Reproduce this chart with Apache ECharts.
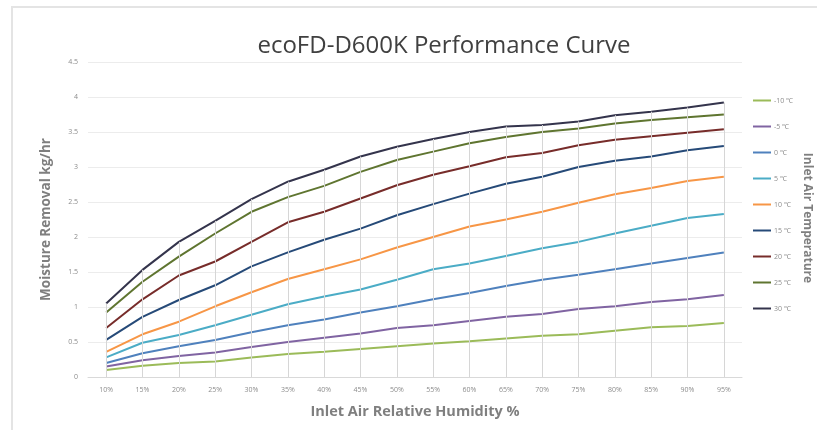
<!DOCTYPE html>
<html>
<head>
<meta charset="utf-8">
<script src="https://cdn.jsdelivr.net/npm/echarts@6/dist/echarts.min.js"></script>
<style>html,body{margin:0;padding:0;background:#fff;}#c{width:817px;height:430px;}</style>
</head>
<body>
<div id="c"></div>
<script>
var categories = ['10%','15%','20%','25%','30%','35%','40%','45%','50%','55%','60%','65%','70%','75%','80%','85%','90%','95%'];
var seriesNames = ['-10 ℃','-5 ℃','0 ℃','5 ℃','10 ℃','15 ℃','20 ℃','25 ℃','30 ℃'];
var tm10 = [0.10,0.16,0.20,0.22,0.28,0.33,0.36,0.40,0.44,0.48,0.51,0.55,0.59,0.61,0.66,0.71,0.73,0.77];
var tm5  = [0.15,0.24,0.30,0.35,0.43,0.50,0.56,0.62,0.70,0.74,0.80,0.86,0.90,0.97,1.01,1.07,1.11,1.17];
var t0   = [0.20,0.34,0.44,0.53,0.64,0.74,0.82,0.92,1.01,1.11,1.20,1.30,1.39,1.46,1.54,1.62,1.70,1.78];
var t5   = [0.28,0.49,0.60,0.74,0.89,1.04,1.15,1.25,1.39,1.54,1.62,1.73,1.84,1.93,2.05,2.16,2.27,2.33];
var t10  = [0.36,0.61,0.79,1.01,1.21,1.40,1.54,1.68,1.85,2.00,2.15,2.25,2.36,2.49,2.61,2.70,2.80,2.86];
var t15  = [0.53,0.86,1.10,1.31,1.58,1.78,1.96,2.12,2.31,2.47,2.62,2.76,2.86,3.00,3.09,3.15,3.24,3.30];
var t20  = [0.70,1.11,1.45,1.65,1.93,2.21,2.36,2.55,2.74,2.89,3.01,3.14,3.20,3.31,3.39,3.44,3.49,3.54];
var t25  = [0.92,1.36,1.72,2.05,2.36,2.57,2.73,2.93,3.10,3.22,3.34,3.43,3.50,3.55,3.62,3.67,3.71,3.75];
var t30  = [1.05,1.53,1.93,2.23,2.54,2.79,2.96,3.15,3.29,3.40,3.50,3.58,3.60,3.65,3.74,3.79,3.85,3.92];
var yTicks = [0,0.5,1,1.5,2,2.5,3,3.5,4,4.5];

var allData = [tm10,tm5,t0,t5,t10,t15,t20,t25,t30];
var colors = ['#9bbb59','#8064a2','#4f81bd','#4bacc6','#f79646','#264a78','#772c2a','#5f7530','#34344c'];

var dropLines = categories.map(function(c,i){
  return [{coord:[c,0]},{coord:[c,t30[i]]}];
});

var series = allData.map(function(d,i){
  return {
    name: seriesNames[i], type:'line', data:d, symbol:'none', smooth:false,
    lineStyle:{width:2,color:colors[i]}, itemStyle:{color:colors[i]}, z: 3
  };
});
series.push({
  name:'drop', type:'line', data:[], silent:true, z:1,
  markLine:{silent:true, symbol:['none','none'], label:{show:false},
    lineStyle:{color:'#d6d6d6', width:1, type:'solid'}, data:dropLines}
});

var chart = echarts.init(document.getElementById('c'));
chart.setOption({
  animation:false,
  backgroundColor:'#fff',
  title:{text:'ecoFD-D600K Performance Curve', left:439, top:29, textAlign:'center',
    textStyle:{fontFamily:'Open Sans', fontSize:24, fontWeight:'normal', color:'#404040'}},
  grid:{left:88, right:75, top:62, bottom:53},
  legend:{orient:'vertical', left:748, top:92, itemGap:19, itemWidth:18, itemHeight:2,
    icon:'rect', data:seriesNames,
    textStyle:{fontFamily:'Open Sans', fontSize:7, color:'#8c8c8c', padding:[0,0,0,-2]}},
  xAxis:{type:'category', data:categories, boundaryGap:true,
    name:'Inlet Air Relative Humidity %', nameLocation:'middle', nameGap:27,
    nameTextStyle:{fontFamily:'Open Sans', fontSize:14.5, fontWeight:'bold', color:'#7f7f7f'},
    axisLine:{lineStyle:{color:'#d9d9d9'}}, axisTick:{show:false},
    axisLabel:{fontFamily:'Open Sans', fontSize:7, color:'#8c8c8c', margin:9},
    splitLine:{show:false}},
  yAxis:{type:'value', min:0, max:4.5, interval:0.5,
    name:'Moisture Removal kg/hr', nameLocation:'middle', nameGap:35,
    nameTextStyle:{fontFamily:'Open Sans', fontSize:13.5, fontWeight:'bold', color:'#7f7f7f'},
    axisLine:{show:false}, axisTick:{show:false},
    axisLabel:{fontFamily:'Open Sans', fontSize:7, color:'#8c8c8c', margin:10,
      formatter:function(v){return String(v);}},
    splitLine:{lineStyle:{color:'#ececec', width:1}}},
  graphic:[
    {type:'rect', shape:{x:12, y:7, width:820, height:440}, style:{fill:'none', stroke:'#e4e4e4', lineWidth:2}, silent:true, z:-1},
    {type:'text', x:807, y:218, rotation:-Math.PI/2,
      style:{text:'Inlet Air Temperature', fontFamily:'Open Sans', fontSize:12, fontWeight:'bold', fill:'#7f7f7f', align:'center', verticalAlign:'middle'}}
  ],
  series: series
});
</script>
</body>
</html>
